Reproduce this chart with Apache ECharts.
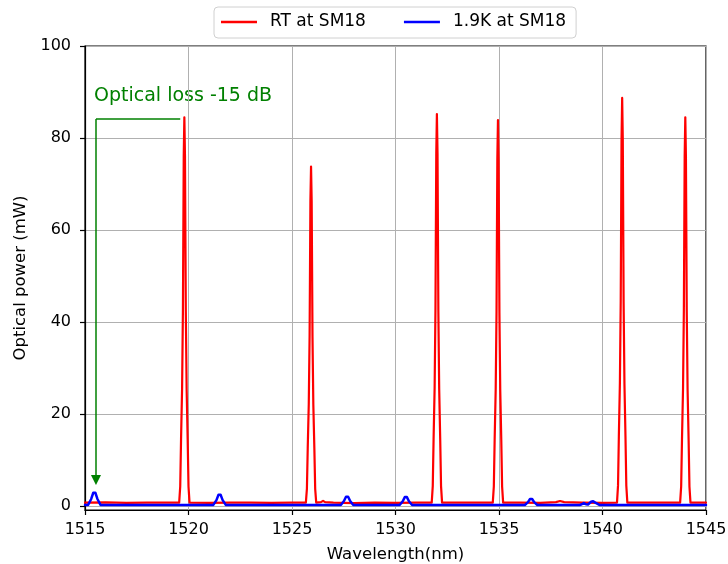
<!DOCTYPE html>
<html>
<head>
<meta charset="utf-8">
<script src="https://cdn.jsdelivr.net/npm/echarts@6/dist/echarts.min.js"></script>
<style>html,body{margin:0;padding:0;background:#fff}#c{width:728px;height:564px}</style>
</head>
<body>
<div id="c"></div>
<script>
// ---- data ----
const xTicks = [1515, 1520, 1525, 1530, 1535, 1540, 1545];
const yTicks = [0, 20, 40, 60, 80, 100];

// RT at SM18 (red)
const rtWl = [
  1515.0, 1516.0, 1517.0, 1518.0, 1519.0,
  1519.55, 1519.60, 1519.64, 1519.69, 1519.73, 1519.77, 1519.80, 1519.83, 1519.87, 1519.91, 1519.96, 1520.00, 1520.05,
  1521.0, 1522.0, 1523.0, 1524.0, 1525.0,
  1525.67, 1525.72, 1525.76, 1525.81, 1525.85, 1525.89, 1525.92, 1525.95, 1525.99, 1526.03, 1526.08, 1526.12, 1526.17,
  1526.4, 1526.5, 1526.6, 1527.0, 1528.0, 1529.0, 1530.0, 1531.0,
  1531.75, 1531.80, 1531.84, 1531.89, 1531.93, 1531.97, 1532.00, 1532.03, 1532.07, 1532.11, 1532.16, 1532.20, 1532.25,
  1533.0, 1534.0,
  1534.70, 1534.75, 1534.79, 1534.84, 1534.88, 1534.92, 1534.95, 1534.98, 1535.02, 1535.06, 1535.11, 1535.15, 1535.20,
  1536.0, 1537.0, 1537.75, 1537.95, 1538.15, 1539.0, 1540.0,
  1540.70, 1540.75, 1540.79, 1540.84, 1540.88, 1540.92, 1540.95, 1540.98, 1541.02, 1541.06, 1541.11, 1541.15, 1541.20,
  1542.0, 1543.0,
  1543.75, 1543.80, 1543.84, 1543.89, 1543.93, 1543.97, 1544.00, 1544.03, 1544.07, 1544.11, 1544.16, 1544.20, 1544.25,
  1545.0
];
const rtPw = [
  0.7, 0.75, 0.65, 0.7, 0.7,
  0.7, 4.2, 14.4, 25.4, 42.3, 76.1, 84.5, 76.1, 42.3, 25.4, 14.4, 4.2, 0.7,
  0.65, 0.7, 0.7, 0.65, 0.7,
  0.7, 3.7, 12.5, 22.1, 36.9, 66.4, 73.8, 66.4, 36.9, 22.1, 12.5, 3.7, 0.7,
  0.8, 1.1, 0.8, 0.7, 0.6, 0.7, 0.65, 0.7,
  0.7, 4.3, 14.5, 25.6, 42.6, 76.7, 85.2, 76.7, 42.6, 25.6, 14.5, 4.3, 0.7,
  0.7, 0.7,
  0.7, 4.2, 14.3, 25.2, 42.0, 75.5, 83.9, 75.5, 42.0, 25.2, 14.3, 4.2, 0.7,
  0.7, 0.65, 0.8, 1.05, 0.8, 0.7, 0.65,
  0.7, 4.4, 15.1, 26.6, 44.4, 79.8, 88.7, 79.8, 44.4, 26.6, 15.1, 4.4, 0.7,
  0.7, 0.7,
  0.7, 4.2, 14.4, 25.4, 42.3, 76.1, 84.5, 76.1, 42.3, 25.4, 14.4, 4.2, 0.7,
  0.7
];

// 1.9K at SM18 (blue)
const kWl = [
  1515.0, 1515.15, 1515.30, 1515.40, 1515.45, 1515.50, 1515.60, 1515.75,
  1521.20, 1521.35, 1521.45, 1521.50, 1521.55, 1521.65, 1521.80,
  1527.36, 1527.51, 1527.61, 1527.66, 1527.71, 1527.81, 1527.96,
  1530.20, 1530.35, 1530.45, 1530.50, 1530.55, 1530.65, 1530.80,
  1536.25, 1536.40, 1536.50, 1536.55, 1536.60, 1536.70, 1536.85,
  1538.90, 1539.00, 1539.10, 1539.20, 1539.30, 1539.45, 1539.55, 1539.65, 1539.85,
  1545.0
];
const kPw = [
  0.2, 0.2, 1.5, 2.85, 3.0, 2.85, 1.5, 0.2,
  0.2, 1.25, 2.4, 2.5, 2.4, 1.25, 0.2,
  0.2, 1.05, 2.0, 2.1, 2.0, 1.05, 0.2,
  0.2, 1.0, 1.9, 2.0, 1.9, 1.0, 0.2,
  0.2, 0.8, 1.5, 1.6, 1.5, 0.8, 0.2,
  0.2, 0.35, 0.6, 0.35, 0.3, 0.9, 1.0, 0.7, 0.2,
  0.2
];

// annotation
const annoText = 'Optical loss -15 dB';
const annoStart = [1519.6, 84.1];
const annoCorner = [1515.53, 84.1];
const annoEnd = [1515.53, 5.6];

const zip = (a, b) => a.map((v, i) => [v, b[i]]);

const FONT = 'DejaVu Sans';
const chart = echarts.init(document.getElementById('c'), null, {renderer: 'canvas'});
chart.setOption({
  animation: false,
  backgroundColor: '#fff',
  textStyle: {fontFamily: FONT},
  grid: {left: 85, right: 22, top: 46, bottom: 54, show: true, borderColor: '#000', borderWidth: 1.2, backgroundColor: 'transparent', containLabel: false, outerBoundsMode: 'none'},
  legend: {
    left: 214, top: 7,
    padding: [5, 10, 6, 7],
    itemGap: 38, itemWidth: 36, itemHeight: 2.5,
    icon: 'rect',
    borderColor: '#d0d0d0', borderWidth: 1, borderRadius: 4,
    textStyle: {fontFamily: FONT, fontSize: 17, color: '#000', padding: [0, 0, 0, 8], lineHeight: 20},
    data: ['RT at SM18', '1.9K at SM18']
  },
  xAxis: {
    type: 'value', min: 1515, max: 1545, interval: 5,
    name: 'Wavelength(nm)', nameLocation: 'middle', nameGap: 36,
    nameTextStyle: {fontFamily: FONT, fontSize: 16.5, color: '#000'},
    axisLine: {show: true, onZero: false, lineStyle: {color: '#000', width: 1.2}},
    axisTick: {show: true, length: 5, lineStyle: {color: '#000', width: 1.2}},
    axisLabel: {fontFamily: FONT, fontSize: 16, color: '#000', margin: 12, customValues: xTicks, formatter: v => String(v)},
    splitLine: {show: true, lineStyle: {color: '#b0b0b0', width: 1}}
  },
  yAxis: {
    type: 'value', min: -0.9, max: 100, splitNumber: 5,
    name: 'Optical power (mW)', nameLocation: 'middle', nameGap: 56,
    nameTextStyle: {fontFamily: FONT, fontSize: 16.5, color: '#000'},
    axisLine: {show: true, onZero: false, lineStyle: {color: '#000', width: 1.2}},
    axisTick: {show: true, length: 5, lineStyle: {color: '#000', width: 1.2}, customValues: yTicks},
    axisLabel: {fontFamily: FONT, fontSize: 16, color: '#000', margin: 14, customValues: yTicks, formatter: v => String(v)},
    splitLine: {show: true, lineStyle: {color: '#b0b0b0', width: 1}}
  },
  series: [
    {
      name: 'RT at SM18', type: 'line', data: zip(rtWl, rtPw),
      showSymbol: false, symbol: 'none', smooth: false,
      lineStyle: {color: '#ff0000', width: 2.2, join: 'round', cap: 'round'}, itemStyle: {color: '#ff0000'}, z: 2
    },
    {
      name: '1.9K at SM18', type: 'line', data: zip(kWl, kPw),
      showSymbol: false, symbol: 'none',
      lineStyle: {color: '#0000ff', width: 2.5, join: 'round', cap: 'round'}, itemStyle: {color: '#0000ff'}, z: 3
    },
    {
      name: 'annotation', type: 'line', data: [],
      silent: true, z: 4,
      markLine: {
        silent: true, animation: false,
        label: {show: false},
        lineStyle: {color: 'green', width: 1.5, type: 'solid'},
        data: [
          [{coord: annoStart, symbol: 'none'}, {coord: annoCorner, symbol: 'none'}],
          [{coord: annoCorner, symbol: 'none'}, {coord: annoEnd, symbol: 'triangle', symbolSize: [10, 10], symbolRotate: 180}]
        ]
      }
    }
  ],
  graphic: [
    {type: 'text', left: 94, top: 87, style: {text: annoText, fill: 'green', font: '19px "DejaVu Sans"'}}
  ]
});
</script>
</body>
</html>
